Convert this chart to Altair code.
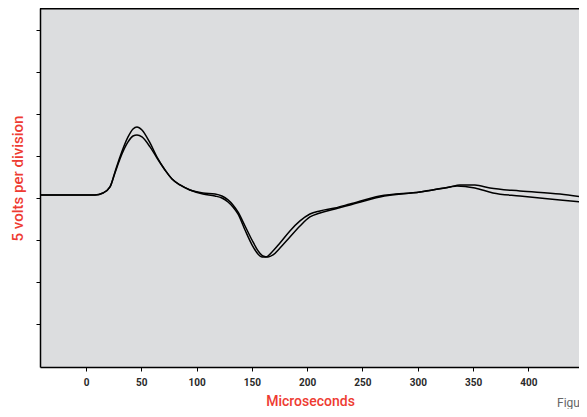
import altair as alt
import pandas as pd

# Trace 1 (higher first peak)
t1_us = [-41.6, 8.1, 15.4, 21.7, 26.2, 30.7, 38.0, 42.5, 46.1, 50.6, 57.9, 64.2, 71.4, 77.8,
         85.0, 94.0, 105.8, 116.6, 122.9, 128.4, 132.9, 137.4, 143.8, 150.1, 155.5, 160.0,
         164.6, 169.1, 175.4, 184.4, 193.5, 202.5, 211.6, 225.1, 238.7, 265.8, 302.0, 329.1,
         338.2, 351.7, 365.3, 392.4, 428.6, 455.7]
t1_v = [0.32, 0.32, 0.56, 1.27, 3.06, 4.84, 7.23, 8.18, 8.42, 8.06, 6.51, 4.84, 3.30, 2.23,
        1.51, 0.92, 0.56, 0.44, 0.20, -0.27, -0.87, -1.70, -3.37, -5.04, -6.30, -6.94,
        -7.06, -6.82, -5.99, -4.68, -3.37, -2.30, -1.82, -1.35, -0.87, 0.08, 0.68, 1.27,
        1.51, 1.51, 1.15, 0.80, 0.44, -0.04]

# Trace 2 (lower first peak)
t2_us = [-41.6, 8.1, 15.4, 21.7, 26.2, 30.7, 38.0, 42.5, 46.1, 50.6, 57.9, 64.2, 71.4, 77.8,
         85.0, 94.0, 105.8, 116.6, 122.9, 128.4, 132.9, 137.4, 143.8, 150.1, 155.5, 159.1,
         162.7, 168.2, 175.4, 184.4, 193.5, 202.5, 211.6, 225.1, 238.7, 265.8, 302.0, 329.1,
         335.4, 351.7, 368.0, 392.4, 428.6, 455.7]
t2_v = [0.32, 0.32, 0.56, 1.27, 2.94, 4.61, 6.63, 7.34, 7.46, 7.23, 6.04, 4.72, 3.30, 2.23,
        1.51, 0.92, 0.44, 0.20, -0.04, -0.51, -1.11, -1.94, -3.85, -5.61, -6.70, -7.06,
        -7.06, -6.46, -5.39, -3.96, -2.77, -1.94, -1.58, -1.23, -0.75, 0.20, 0.68, 1.27,
        1.39, 1.15, 0.56, 0.20, -0.27, -0.63]

x_ticks = [0, 50, 100, 150, 200, 250, 300, 350, 400]
y_ticks = [-15, -10, -5, 0, 5, 10, 15, 20]

df = pd.concat([
    pd.DataFrame({"us": t1_us, "v": t1_v, "trace": "1"}),
    pd.DataFrame({"us": t2_us, "v": t2_v, "trace": "2"}),
])

RED = "#ee3b32"
W, H = 539, 359

x = alt.X("us:Q",
          scale=alt.Scale(domain=[-41.6, 445.8], nice=False, zero=False),
          axis=alt.Axis(values=x_ticks, title="Microseconds", grid=False,
                        domainColor="black", domainWidth=1.5,
                        tickColor="black", tickSize=4, tickWidth=1,
                        labelFont="Roboto", labelFontSize=10, labelFontWeight="bold",
                        labelColor="#2a2a2a", labelPadding=6,
                        titleFont="Roboto", titleFontSize=14, titleFontWeight=500,
                        titleColor=RED, titleX=270, titleY=34, titleBaseline="middle",
                        titleAlign="center"))
y = alt.Y("v:Q",
          scale=alt.Scale(domain=[-20.15, 22.57], nice=False, zero=False),
          axis=alt.Axis(values=y_ticks, labels=False, title="5 volts per division",
                        grid=False, domainColor="black", domainWidth=1.5,
                        tickColor="black", tickSize=4, tickWidth=1,
                        titleFont="Roboto", titleFontSize=15, titleFontWeight=500,
                        titleColor=RED, titleX=-23, titleY=170, titleAngle=270,
                        titleBaseline="middle", titleAlign="center"))

lines = alt.Chart(df).mark_line(color="black", strokeWidth=1.5,
                                interpolate="monotone", clip=True).encode(
    x=x, y=y, detail="trace:N")

top_border = alt.Chart(pd.DataFrame({"k": [0]})).mark_rule(
    color="black", strokeWidth=1.5
).encode(x=alt.value(0), x2=alt.value(W), y=alt.value(0.75))

caption = alt.Chart(pd.DataFrame({"t": ["Figure"]})).mark_text(
    align="left", baseline="middle", font="Roboto", fontSize=12, color="#666666"
).encode(text="t:N", x=alt.value(517), y=alt.value(395))

chart = alt.layer(lines, top_border, caption).properties(
    width=W, height=H,
    autosize=alt.AutoSizeParams(type="none"),
    padding={"left": 32, "top": 0, "right": 0, "bottom": 42},
).configure_view(fill="#dcdddf", stroke=None)

chart.save("out.html", embed_options={"renderer": "svg", "actions": False})
